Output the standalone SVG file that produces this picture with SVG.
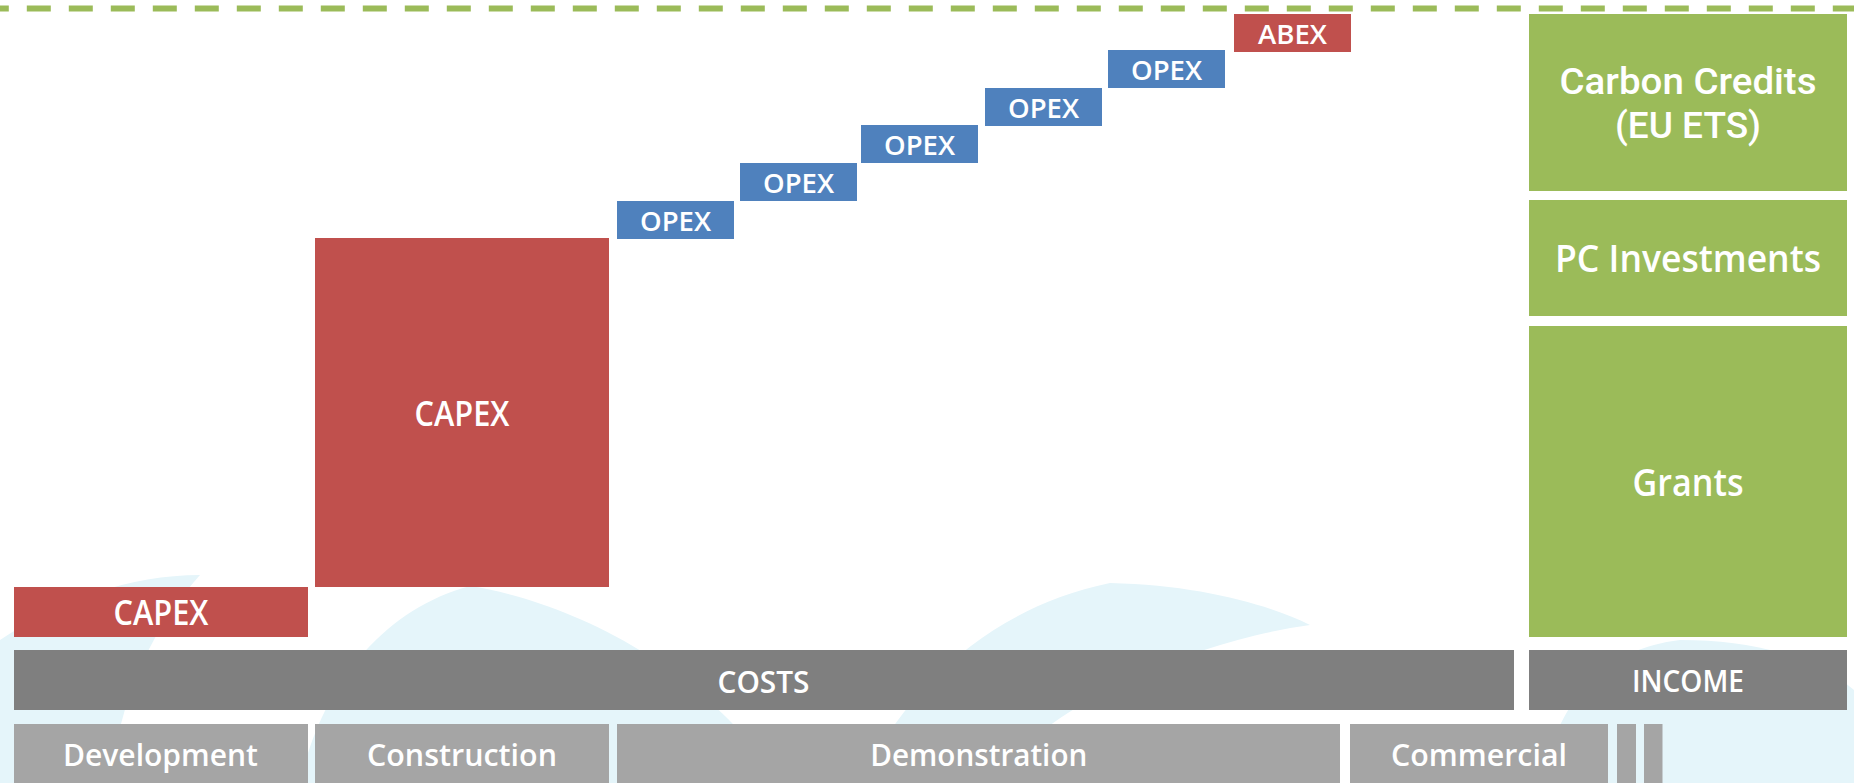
<svg xmlns="http://www.w3.org/2000/svg" width="1854" height="783" viewBox="0 0 1854 783">
<style>
.red{fill:#C0504D}
.blue{fill:#4F81BD}
.green{fill:#9BBB59}
.dark{fill:#7F7F7F}
.light{fill:#A5A5A5}
.wm{fill:#E5F5FA}
text{font-family:"Open Sans","Liberation Sans",sans-serif;font-weight:600;fill:#FFFFFF;text-anchor:middle}
.t27{font-size:27px}
.t31{font-size:31px}
.t35{font-size:35px}
.t38{font-size:38px}
.t37r{font-family:Roboto,"Liberation Sans",sans-serif;font-weight:500;font-size:37px}
</style>
<rect x="0" y="0" width="1854" height="783" fill="#FFFFFF"/>
<g id="watermark">
<path class="wm" d="M0,640 C60,600 130,575 200,575 C150,630 120,700 110,783 L0,783 Z"/>
<path class="wm" d="M300,783 C320,690 380,610 470,586 C560,600 700,660 780,783 Z"/>
<path class="wm" d="M860,783 C900,700 980,610 1110,583 C1200,585 1270,605 1310,625 C1200,640 1050,700 990,783 Z"/>
<path class="wm" d="M1540,783 C1560,700 1600,650 1680,640 C1760,640 1820,660 1854,690 L1854,783 Z"/>
</g>
<g id="dashed-line">
<line x1="-15.2" y1="8.5" x2="1854" y2="8.5" stroke="#9BBB59" stroke-width="6" stroke-dasharray="24 18"/>
</g>
<g id="connectors"></g>
<g id="capex-dev">
<rect class="red" x="14" y="587" width="294" height="50"/>
<text class="t35" x="161" y="625" textLength="95" lengthAdjust="spacingAndGlyphs">CAPEX</text>
</g>
<g id="capex-con">
<rect class="red" x="315" y="238" width="294" height="349"/>
<text class="t35" x="462" y="426" textLength="95" lengthAdjust="spacingAndGlyphs">CAPEX</text>
</g>
<g id="opex1">
<rect class="blue" x="617" y="201" width="117" height="38"/>
<text class="t27" x="675.5" y="231.3" textLength="71" lengthAdjust="spacingAndGlyphs">OPEX</text>
</g>
<g id="opex2">
<rect class="blue" x="740" y="163" width="117" height="38"/>
<text class="t27" x="798.5" y="193.3" textLength="71" lengthAdjust="spacingAndGlyphs">OPEX</text>
</g>
<g id="opex3">
<rect class="blue" x="861" y="125" width="117" height="38"/>
<text class="t27" x="919.5" y="155.3" textLength="71" lengthAdjust="spacingAndGlyphs">OPEX</text>
</g>
<g id="opex4">
<rect class="blue" x="985" y="88" width="117" height="38"/>
<text class="t27" x="1043.5" y="118.3" textLength="71" lengthAdjust="spacingAndGlyphs">OPEX</text>
</g>
<g id="opex5">
<rect class="blue" x="1108" y="50" width="117" height="38"/>
<text class="t27" x="1166.5" y="80.3" textLength="71" lengthAdjust="spacingAndGlyphs">OPEX</text>
</g>
<g id="abex">
<rect class="red" x="1234" y="14" width="117" height="38"/>
<text class="t27" x="1292.5" y="44" textLength="69" lengthAdjust="spacingAndGlyphs">ABEX</text>
</g>
<g id="carbon-credits">
<rect class="green" x="1529" y="14" width="318" height="177"/>
<text class="t37r" x="1688" y="94.3" textLength="257" lengthAdjust="spacingAndGlyphs">Carbon Credits</text>
<text class="t37r" x="1688" y="138.3" textLength="146" lengthAdjust="spacingAndGlyphs">(EU ETS)</text>
</g>
<g id="pc-investments">
<rect class="green" x="1529" y="200" width="318" height="116"/>
<text class="t38" x="1688" y="271.7" textLength="266" lengthAdjust="spacingAndGlyphs">PC Investments</text>
</g>
<g id="grants">
<rect class="green" x="1529" y="326" width="318" height="311"/>
<text class="t38" x="1688" y="495.7" textLength="111" lengthAdjust="spacingAndGlyphs">Grants</text>
</g>
<g id="costs">
<rect class="dark" x="14" y="650" width="1500" height="60"/>
<text class="t31" x="763.5" y="692.5" textLength="92" lengthAdjust="spacingAndGlyphs">COSTS</text>
</g>
<g id="income">
<rect class="dark" x="1529" y="650" width="318" height="60"/>
<text class="t31" x="1688" y="692" textLength="112" lengthAdjust="spacingAndGlyphs">INCOME</text>
</g>
<g id="development">
<rect class="light" x="14" y="724" width="294" height="62"/>
<text class="t31" x="160.5" y="765.7" textLength="195" lengthAdjust="spacingAndGlyphs">Development</text>
</g>
<g id="construction">
<rect class="light" x="315" y="724" width="294" height="62"/>
<text class="t31" x="462" y="765.7" textLength="190" lengthAdjust="spacingAndGlyphs">Construction</text>
</g>
<g id="demonstration">
<rect class="light" x="617" y="724" width="723" height="62"/>
<text class="t31" x="978.8" y="765.7" textLength="217" lengthAdjust="spacingAndGlyphs">Demonstration</text>
</g>
<g id="commercial">
<rect class="light" x="1350" y="724" width="258" height="62"/>
<text class="t31" x="1479" y="765.7" textLength="176" lengthAdjust="spacingAndGlyphs">Commercial</text>
</g>
<g id="phase-5">
<rect class="light" x="1617" y="724" width="19" height="62"/>
</g>
<g id="phase-6">
<rect class="light" x="1644" y="724" width="18.5" height="62"/>
</g>
</svg>
